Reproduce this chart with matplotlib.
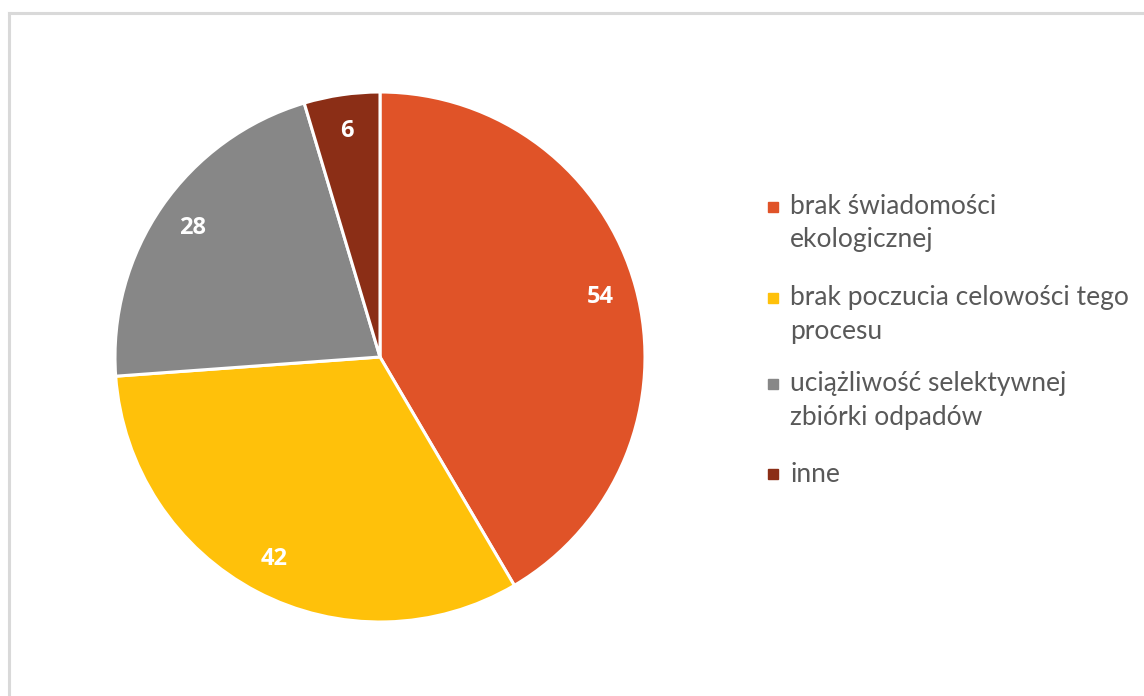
import matplotlib.pyplot as plt
from matplotlib.patches import Rectangle
from matplotlib.lines import Line2D

# data
labels = ["brak świadomości\nekologicznej",
          "brak poczucia celowości tego\nprocesu",
          "uciążliwość selektywnej\nzbiórki odpadów",
          "inne"]
values = [54, 42, 28, 6]
colors = ["#E05328", "#FFC10A", "#878787", "#8B2E16"]

W, H = 1144, 696
fig = plt.figure(figsize=(W / 100, H / 100), dpi=100)

# chart border (light gray, runs off the right/bottom edge)
fig.add_artist(Line2D([8.5 / W, 8.5 / W], [0, 1 - 12.5 / H], color="#D9D9D9", lw=2.2,
                      transform=fig.transFigure))
fig.add_artist(Line2D([8.5 / W, 1], [1 - 12.5 / H, 1 - 12.5 / H], color="#D9D9D9", lw=2.2,
                      transform=fig.transFigure))

# pie: centre (380, 357) px, radius 265 px
cx, cy, r = 380, 357, 265
ax = fig.add_axes([(cx - r) / W, 1 - (cy + r) / H, 2 * r / W, 2 * r / H])
wedges, texts = ax.pie(values, colors=colors, startangle=90, counterclock=False,
                       labels=[str(v) for v in values], labeldistance=0.86,
                       wedgeprops=dict(edgecolor="white", linewidth=2.2),
                       textprops=dict(color="white", fontsize=17, fontweight="bold",
                                      family="Open Sans"))
for t in texts:
    t.set_ha("center")
    t.set_va("center")
ax.set_xlim(-1, 1)
ax.set_ylim(-1, 1)
ax.set_aspect("equal")
ax.axis("off")

# legend
leg_y = [207, 298, 384, 474]
line_gap = 33
for y, lab, c in zip(leg_y, labels, colors):
    fig.add_artist(Rectangle((768 / W, 1 - (y + 5) / H), 10 / W, 10 / H,
                             color=c, transform=fig.transFigure))
    for i, part in enumerate(lab.split("\n")):
        fig.text(790 / W, 1 - (y + i * line_gap) / H, part, fontsize=19,
                 color="#595959", family="Lato", va="center", ha="left")

fig.savefig("out.png", dpi=100)
